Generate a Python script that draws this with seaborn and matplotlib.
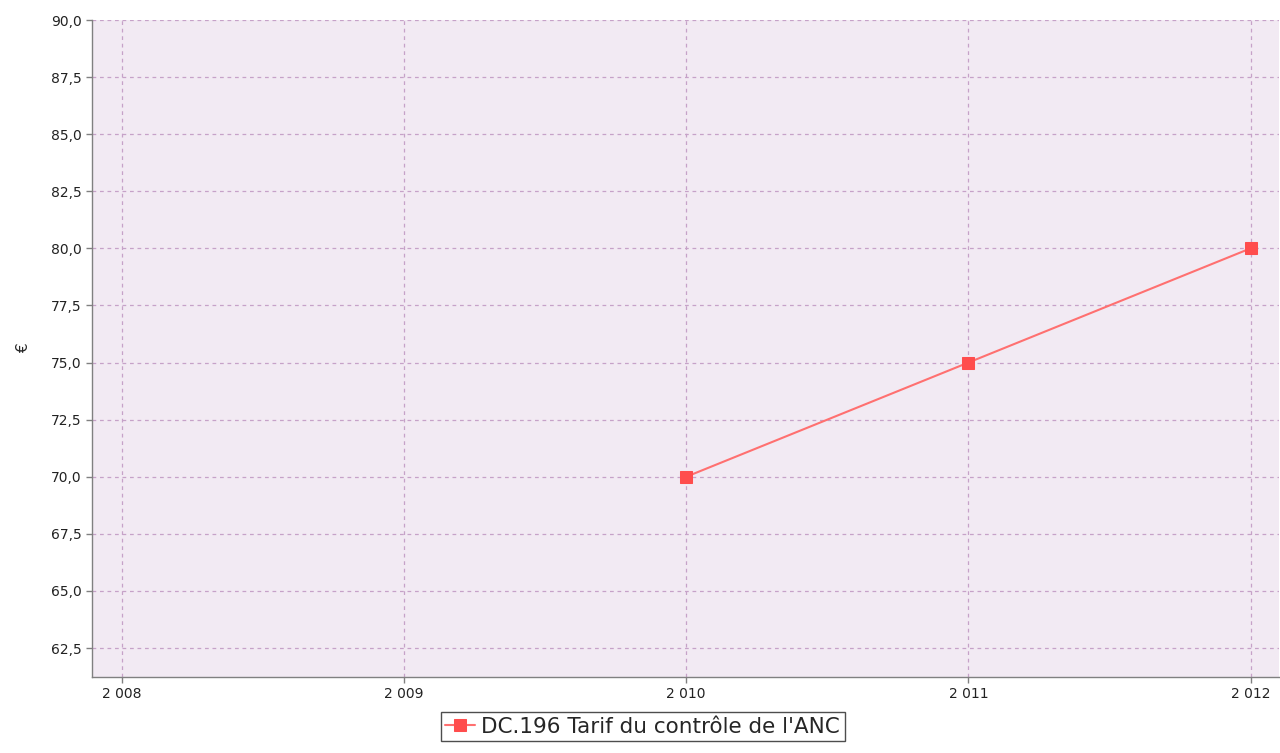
import pandas as pd
import matplotlib.pyplot as plt
import matplotlib.ticker as mticker
import seaborn as sns

# Data
years = [2010, 2011, 2012]
values = [70.0, 75.0, 80.0]
series_name = "DC.196 Tarif du contrôle de l'ANC"

df = pd.DataFrame({"Année": years, "Valeur": values, "Série": series_name})

sns.set_theme(style="white")
plt.rcParams['font.family'] = ['DejaVu Sans']

fig = plt.figure(figsize=(12.8, 7.53), dpi=100)
ax = fig.add_axes([0.0719, 0.1009, 0.9271, 0.8725])
ax.set_facecolor('#F2EAF3')

sns.lineplot(data=df, x="Année", y="Valeur", hue="Série", palette=['#FF7070'],
             marker='s', markersize=9, markerfacecolor='#FF4D4D', markeredgecolor='#FF4D4D',
             linewidth=1.5, ax=ax, legend=True)

ax.set_xlim(2007.894, 2012.1)
ax.set_ylim(61.23, 90.0)
ax.set_xticks([2008, 2009, 2010, 2011, 2012])
ax.set_xticklabels(["2 008", "2 009", "2 010", "2 011", "2 012"])
ax.set_yticks([62.5 + 2.5 * i for i in range(12)])
ax.yaxis.set_major_formatter(mticker.FuncFormatter(lambda v, p: f"{v:.1f}".replace('.', ',')))

ax.grid(True, color='#C6A2C8', linestyle=(0, (3, 3)), linewidth=0.9)
for side in ['top', 'right']:
    ax.spines[side].set_visible(False)
for side in ['left', 'bottom']:
    ax.spines[side].set_color('#808080')
    ax.spines[side].set_linewidth(1.0)

ax.tick_params(axis='both', which='both', length=4, width=1, color='#808080',
               labelsize=10, labelcolor='#222222', left=True, bottom=True)
ax.set_xlabel("")
ax.set_ylabel("€", fontsize=11, labelpad=14)

handles, labels = ax.get_legend_handles_labels()
leg = ax.legend(handles, labels, loc='upper center', bbox_to_anchor=(0.502, 0.054),
                bbox_transform=fig.transFigure, frameon=True, fancybox=False,
                edgecolor='#222222', fontsize=15.5, handlelength=1.4, handletextpad=0.3,
                borderpad=0.2, borderaxespad=0)
leg.get_frame().set_linewidth(1.0)

fig.savefig("out.png", dpi=100, facecolor='white')
